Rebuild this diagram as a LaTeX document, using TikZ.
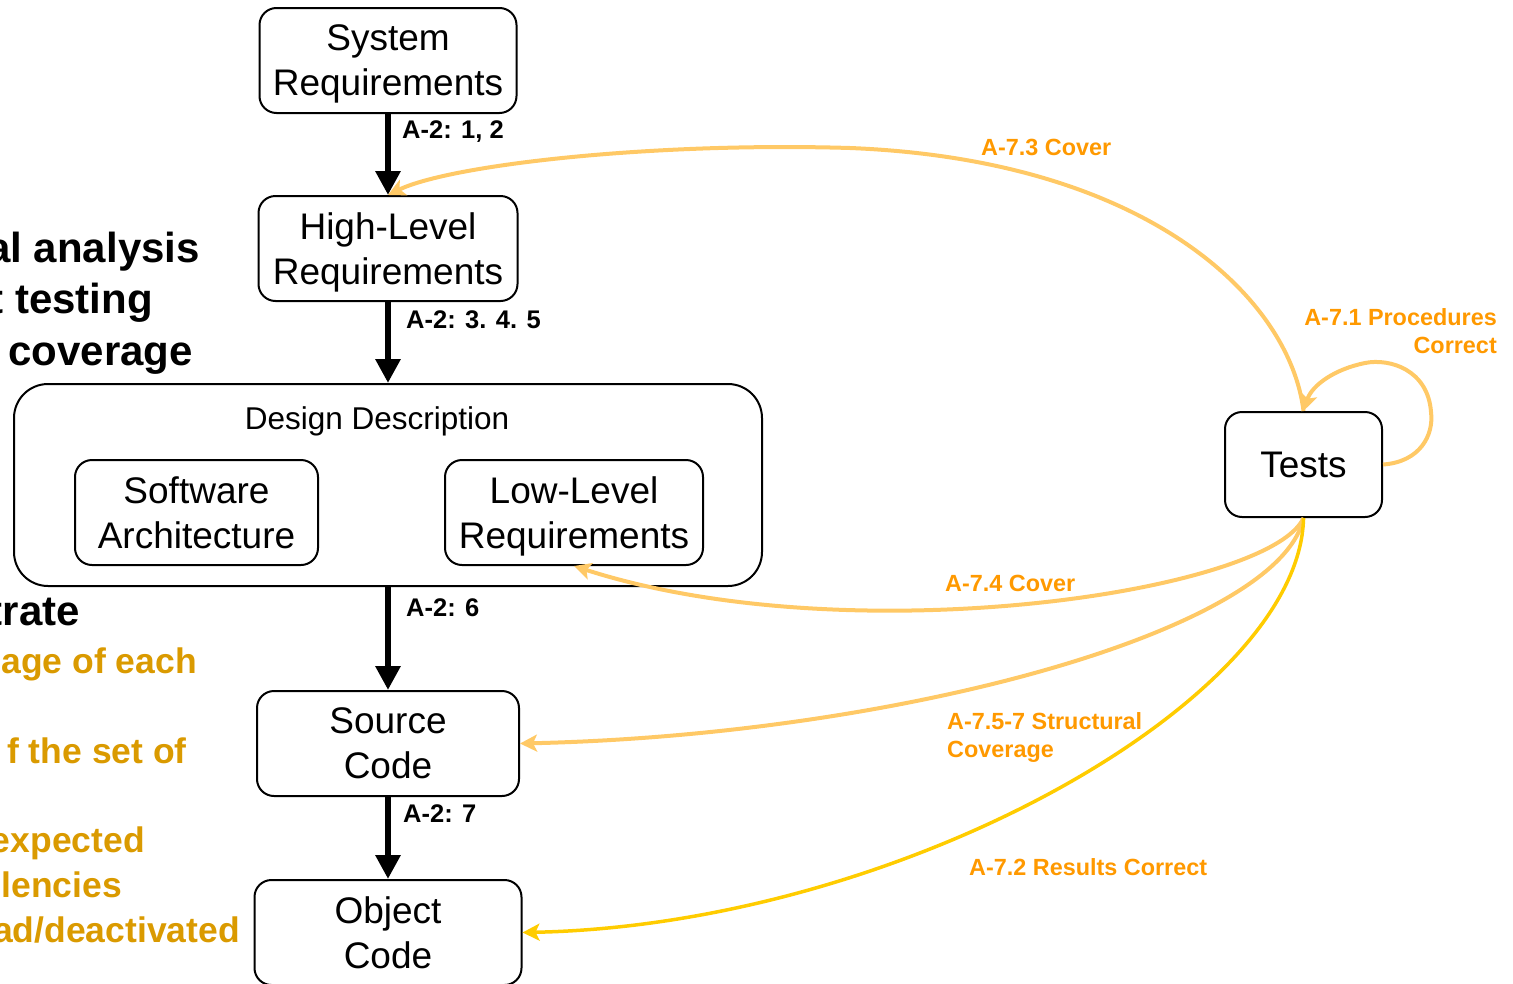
\documentclass[tikz,border=0pt]{standalone}
\usepackage{fontspec}
\setmainfont{Liberation Sans}
\usetikzlibrary{arrows.meta}

\definecolor{coverline}{HTML}{FFC966}
\definecolor{resultline}{HTML}{FFCC00}
\definecolor{linktext}{HTML}{FF9900}
\definecolor{notetext}{HTML}{DA9A00}

\newcommand\dgBoxFont{\fontsize{37}{45}\selectfont}
\newcommand\dgTitleFont{\fontsize{31.5}{38}\selectfont}
\newcommand\dgStepFont{\fontsize{25.5}{31}\selectfont\bfseries}
\newcommand\dgLinkFont{\fontsize{23.4}{28}\selectfont\bfseries}
\newcommand\dgBigFont{\fontsize{42}{50}\selectfont\bfseries}
\newcommand\dgNoteFont{\fontsize{35.5}{45}\selectfont\bfseries}

\begin{document}
\begin{tikzpicture}[x=1pt,y=-1pt,
  box/.style={draw, line width=2pt, rounded corners=17pt, align=center,
    font=\dgBoxFont, inner sep=0pt, text depth=0pt},
  flow/.style={line width=6pt, -{Triangle[length=24pt,width=24pt]}},
  cover/.style={coverline, line width=4pt,
    -{Stealth[length=17pt,width=17pt,inset=4pt]}},
  result/.style={resultline, line width=3.5pt,
    -{Stealth[length=17pt,width=17pt,inset=4pt]}},
  steplbl/.style={font=\dgStepFont, inner sep=0pt, anchor=west},
  linklbl/.style={font=\dgLinkFont, text=linktext, inner sep=0pt},
  bignote/.style={font=\dgBigFont, inner sep=0pt, anchor=base east},
  note/.style={font=\dgNoteFont, text=notetext, inner sep=0pt, anchor=base east}]

\useasboundingbox (0,0) rectangle (1513,983);
\clip (0,0) rectangle (1513,983);

% side notes, running off the left edge
\node[bignote] (n1) at (200,262) {al analysis};
\node[bignote] (n2) at (153,313) {t testing};
\node[bignote] (n3) at (193,365) {coverage};
\node[bignote] (n4) at (80,625) {trate};
\node[note] (n5) at (197,673) {age of each};
\node[note] (n6) at (187,763) {f the set of};
\node[note] (n7) at (145,852) {expected};
\node[note] (n8) at (122,897) {lencies};
\node[note] (n9) at (240,942) {ad/deactivated};

% life-cycle data
\node[box, minimum width=257pt, minimum height=105pt] (sys) at (388,60.5) {System\\Requirements};
\node[box, minimum width=259pt, minimum height=105pt] (hlr) at (388,248.5) {High-Level\\Requirements};
\node[box, rounded corners=34pt, minimum width=748pt, minimum height=202pt] (dd) at (388,485) {};
\node[font=\dgTitleFont, inner sep=0pt] (ddt) at (377,421) {Design Description};
\node[box, minimum width=243pt, minimum height=105pt] (arch) at (196.5,512.5) {Software\\Architecture};
\node[box, minimum width=258pt, minimum height=105pt] (llr) at (574,512.5) {Low-Level\\Requirements};
\node[box, minimum width=262pt, minimum height=105pt] (src) at (388,743.5) {Source\\Code};
\node[box, minimum width=267pt, minimum height=105pt] (obj) at (388,932.5) {Object\\Code};
\node[box, minimum width=157pt, minimum height=105pt] (tests) at (1303.5,464.5) {Tests};

% development flow
\draw[flow] (sys.south) -- (hlr.north);
\draw[flow] (hlr.south) -- (dd.north);
\draw[flow] (dd.south) -- (src.north);
\draw[flow] (src.south) -- (obj.north);

\node[steplbl] (s1) at (402,132) {A-2: 1, 2};
\node[steplbl] (s2) at (406,320) {A-2: 3. 4. 5};
\node[steplbl] (s3) at (406,608) {A-2: 6};
\node[steplbl] (s4) at (403,814) {A-2: 7};

% verification of the tests
\draw[cover] (tests.north) .. controls (1290,300) and (1150,160) .. (850,148)
  .. controls (650,142) and (450,165) .. (hlr.north);
\draw[cover] (tests.east) .. controls (1420,462) and (1434,435) .. (1431,412)
  .. controls (1428,370) and (1390,358) .. (1365,363)
  .. controls (1335,369) and (1312,385) .. (tests.north);
\draw[cover] (tests.south) .. controls (1270,592) and (850,655) .. (llr.south);
\draw[cover] (tests.south) .. controls (1280,630) and (900,735) .. (src.east);
\draw[result] (tests.south) .. controls (1300,700) and (900,925) .. (obj.east);

\node[linklbl, anchor=west] (c73) at (981,147) {A-7.3 Cover};
\node[linklbl, anchor=east, align=right] (c71) at (1497,331) {A-7.1 Procedures\\Correct};
\node[linklbl, anchor=west] (c74) at (945,583) {A-7.4 Cover};
\node[linklbl, anchor=west, align=left] (c757) at (947,737) {A-7.5-7 Structural\\Coverage};
\node[linklbl, anchor=west] (c72) at (969,867) {A-7.2 Results Correct};
\end{tikzpicture}
\end{document}
